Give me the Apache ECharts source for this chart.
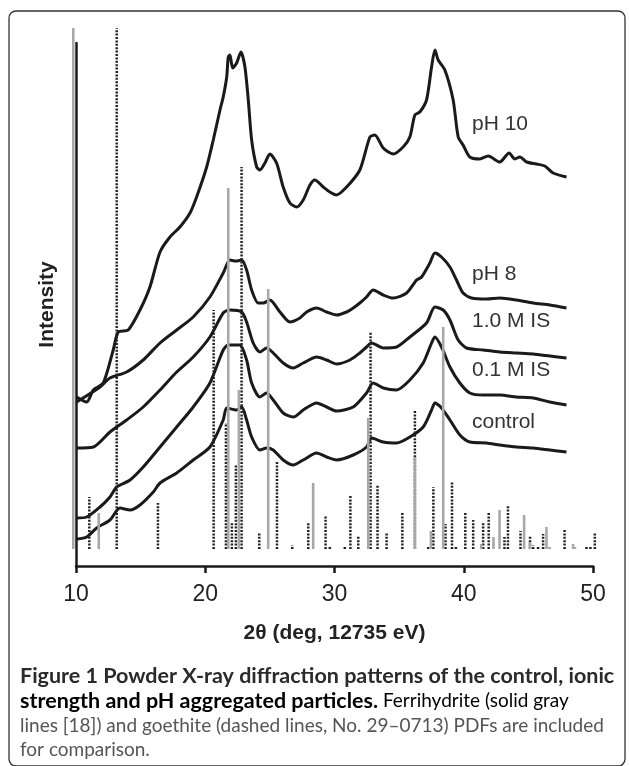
<!DOCTYPE html>
<html><head><meta charset="utf-8">
<script src="https://cdn.jsdelivr.net/npm/echarts@6/dist/echarts.min.js"></script>
<style>html,body{margin:0;padding:0;background:#fff}#c{width:629px;height:766px}</style>
</head><body><div id="c"></div>
<script>
// 2θ (deg) / intensity (a.u.) pairs for each pattern
const ph10 = [[10.05,152],[10.83,147],[11.34,159],[12.11,166],[12.88,199],[13.27,217],[14.04,219],[14.95,239],[15.72,262],[16.50,297],[17.27,312],[18.04,322],[18.82,336],[19.33,352],[20.11,382],[20.62,409],[21.14,439],[21.39,452],[21.66,472],[21.78,492],[21.91,494],[22.12,481],[22.43,486],[22.76,497],[23.07,482],[23.33,449],[23.59,409],[23.98,382],[24.23,379],[24.62,386],[25.00,395],[25.52,386],[26.03,362],[26.55,346],[27.07,342],[27.58,349],[28.10,364],[28.48,369],[29.13,362],[29.64,357],[30.16,354],[30.94,362],[31.96,379],[32.74,412],[33.12,414],[33.77,401],[34.54,395],[35.31,402],[35.83,412],[36.22,434],[36.60,437],[37.12,449],[37.51,482],[37.77,499],[38.02,489],[38.54,479],[39.18,449],[39.57,412],[39.95,404],[40.47,392],[41.24,390],[41.89,393],[42.79,387],[43.51,396],[43.95,390],[44.34,392],[44.86,387],[45.63,385],[46.27,383],[46.91,376],[47.95,372]];
const ph8 = [[10.05,147],[11.86,162],[12.63,171],[13.92,177],[15.20,189],[16.50,206],[17.79,219],[19.07,232],[20.36,252],[21.39,276],[21.91,289],[22.37,288],[22.82,289],[23.20,279],[23.59,259],[24.10,246],[24.49,246],[25.00,249],[25.78,237],[26.55,227],[27.32,231],[27.84,237],[28.62,241],[29.39,237],[30.16,234],[30.94,237],[31.45,241],[31.96,246],[32.48,252],[32.99,259],[33.77,254],[34.54,251],[35.58,256],[36.35,269],[36.74,272],[37.38,286],[37.77,296],[38.28,292],[38.93,282],[39.44,269],[39.95,256],[40.60,251],[41.76,250],[42.79,251],[44.08,249],[45.37,246],[46.66,244],[47.95,241]];
const is10 = [[10.05,101],[11.34,102],[12.63,117],[13.92,129],[15.20,142],[16.50,159],[17.79,177],[19.07,192],[20.36,212],[21.39,236],[21.91,239],[22.82,237],[23.20,227],[23.71,206],[24.23,197],[24.75,201],[25.26,196],[26.03,186],[26.81,181],[27.58,186],[28.62,192],[29.39,189],[30.16,185],[31.19,189],[31.96,196],[32.48,202],[32.87,206],[33.77,201],[34.80,202],[35.83,212],[37.12,226],[37.77,242],[38.41,239],[38.93,229],[39.57,209],[40.22,201],[41.50,199],[42.79,197],[44.08,196],[45.37,195],[46.66,193],[47.95,191]];
const is01 = [[10.05,31],[10.83,32],[11.86,42],[12.63,52],[13.15,62],[14.18,69],[15.20,82],[16.50,102],[17.79,122],[19.07,142],[20.36,166],[21.39,199],[21.78,204],[22.68,204],[23.20,189],[23.59,166],[24.23,152],[24.75,156],[25.26,149],[26.03,136],[26.81,132],[27.58,139],[28.62,146],[29.39,142],[30.16,138],[31.45,142],[32.48,156],[32.99,166],[33.77,161],[34.80,159],[35.83,169],[36.86,186],[37.51,206],[37.77,212],[38.28,202],[38.93,182],[39.70,166],[40.47,156],[41.50,154],[42.79,154],[44.08,152],[45.37,151],[46.66,147],[47.95,144]];
const control = [[10.05,10],[10.83,12],[11.60,21],[12.63,29],[13.40,41],[14.18,39],[14.95,44],[15.98,57],[16.50,66],[17.79,76],[19.07,89],[20.36,102],[21.39,129],[21.66,141],[22.43,139],[22.82,142],[23.20,129],[23.59,112],[24.23,99],[24.75,101],[25.26,99],[26.03,89],[26.81,84],[27.58,89],[28.62,96],[29.39,92],[30.16,89],[31.45,94],[32.48,102],[32.87,111],[33.77,107],[34.80,106],[35.83,112],[36.86,122],[37.51,139],[37.77,146],[38.28,141],[38.93,129],[39.70,114],[40.47,107],[41.76,106],[42.79,104],[44.08,102],[45.37,101],[46.66,99],[47.95,97]];
// reference pattern sticks: [2θ, relative height (521 = 100 %)]
const ferrihydrite = [[9.79,521],[11.76,36],[21.78,361],[22.6,159],[24.87,260],[28.35,66],[32.61,131],[36.22,92],[37.46,18],[38.41,222],[41.35,5],[42.3,12],[42.77,39],[44.67,34],[45.11,7],[46.4,22],[46.6,2],[48.46,5],[48.6,2]];
const goethite = [[11.03,52],[13.15,521],[16.34,46],[20.65,239],[21.6,126],[22.06,26],[22.37,84],[22.81,382],[24.18,17],[25.55,87],[26.73,4],[27.97,26],[29.31,34],[29.64,2],[30.8,3],[31.23,54],[31.84,13],[32.79,217],[33.33,64],[34.03,16],[35.25,37],[36.22,139],[37.25,3],[37.65,62],[38.59,25],[39.09,67],[39.39,2],[40.12,36],[40.73,29],[41.5,26],[41.93,36],[43.15,12],[43.42,43],[44.39,18],[45.13,13],[45.37,4],[45.75,3],[46.14,15],[46.6,2],[47.8,20],[49.5,2],[49.8,3],[50.14,17]];
const seriesNames = ['pH 10','pH 8','1.0 M IS','0.1 M IS','control'];
const xTicks = [10,20,30,40,50];

const chart = echarts.init(document.getElementById('c'));
const curveStyle = {color:'#1a1a1a', width:3};
function curve(name, data){
  return {name, type:'line', data, showSymbol:false, smooth:0.25, lineStyle:curveStyle, z:2, silent:true, animation:false};
}
function sticks(name, data, style, z){
  return {name, type:'custom', data, clip:false, z, silent:true, animation:false,
    encode:{x:0,y:1},
    renderItem:(p, api)=>{
      const a = api.coord([api.value(0), 0]);
      const b = api.coord([api.value(0), api.value(1)]);
      return {type:'line', shape:{x1:a[0],y1:a[1],x2:b[0],y2:b[1]}, style};
    }};
}
const labelFont = {fontFamily:'Liberation Sans, Arial, sans-serif', fontSize:21, fill:'#333'};
const labelY = [124, 274, 321.5, 370, 422.5];
const capFont = 'Lato, "Noto Sans", sans-serif';
chart.setOption({
  animation:false,
  backgroundColor:'#fff',
  grid:{left:76, right:36, top:43, bottom:200},
  xAxis:{type:'value', min:xTicks[0], max:xTicks[xTicks.length-1], interval:10,
    axisLine:{onZero:false, lineStyle:{color:'#1a1a1a', width:2.5}},
    axisTick:{length:7, lineStyle:{color:'#1a1a1a', width:2.5}},
    axisLabel:{fontSize:23, color:'#222', margin:17, fontFamily:'Liberation Sans, Arial, sans-serif'},
    splitLine:{show:false},
    name:'2θ (deg, 12735 eV)', nameLocation:'middle', nameGap:57,
    nameTextStyle:{fontSize:21, fontWeight:'bold', color:'#222', fontFamily:'Liberation Sans, Arial, sans-serif'}},
  yAxis:{type:'value', min:-17, max:506,
    axisLine:{show:true, onZero:false, lineStyle:{color:'#1a1a1a', width:2.5}},
    axisTick:{show:false}, axisLabel:{show:false}, splitLine:{show:false},
    name:'Intensity', nameLocation:'middle', nameGap:18,
    nameTextStyle:{fontSize:21, fontWeight:'bold', color:'#222', fontFamily:'Liberation Sans, Arial, sans-serif'}},
  series:[
    curve(seriesNames[0], ph10), curve(seriesNames[1], ph8), curve(seriesNames[2], is10),
    curve(seriesNames[3], is01), curve(seriesNames[4], control),
    sticks('goethite', goethite, {stroke:'#222', lineWidth:2.5, lineDash:[2,1.4]}, 4),
    sticks('ferrihydrite', ferrihydrite, {stroke:'#a8a8a8', lineWidth:2.6}, 5)
  ],
  graphic:[
    {type:'rect', shape:{x:9, y:11, width:616, height:755, r:7}, style:{fill:null, stroke:'#333', lineWidth:1.3}, silent:true, z:0},
    ...seriesNames.map((n,i)=>({type:'text', x:472, y:labelY[i], style:Object.assign({text:n, verticalAlign:'middle'}, labelFont)})),
    {type:'text', x:20, y:676, style:{text:'Figure 1 Powder X-ray diffraction patterns of the control, ionic', font:'bold 21.5px '+capFont, fill:'#2a2a2a', verticalAlign:'middle'}},
    {type:'text', x:20, y:701, style:{text:'{b|strength and pH aggregated particles.}{n| Ferrihydrite (solid gray}', verticalAlign:'middle',
      rich:{b:{fontWeight:'bold', fontSize:21.5, fontFamily:capFont, color:'#2a2a2a'}, n:{fontSize:19, fontFamily:capFont, color:'#555'}}}},
    {type:'text', x:20, y:725.5, style:{text:'lines [18]) and goethite (dashed lines, No. 29–0713) PDFs are included', font:'19px '+capFont, fill:'#555', verticalAlign:'middle'}},
    {type:'text', x:20, y:750, style:{text:'for comparison.', font:'19px '+capFont, fill:'#555', verticalAlign:'middle'}}
  ]
});
</script></body></html>
